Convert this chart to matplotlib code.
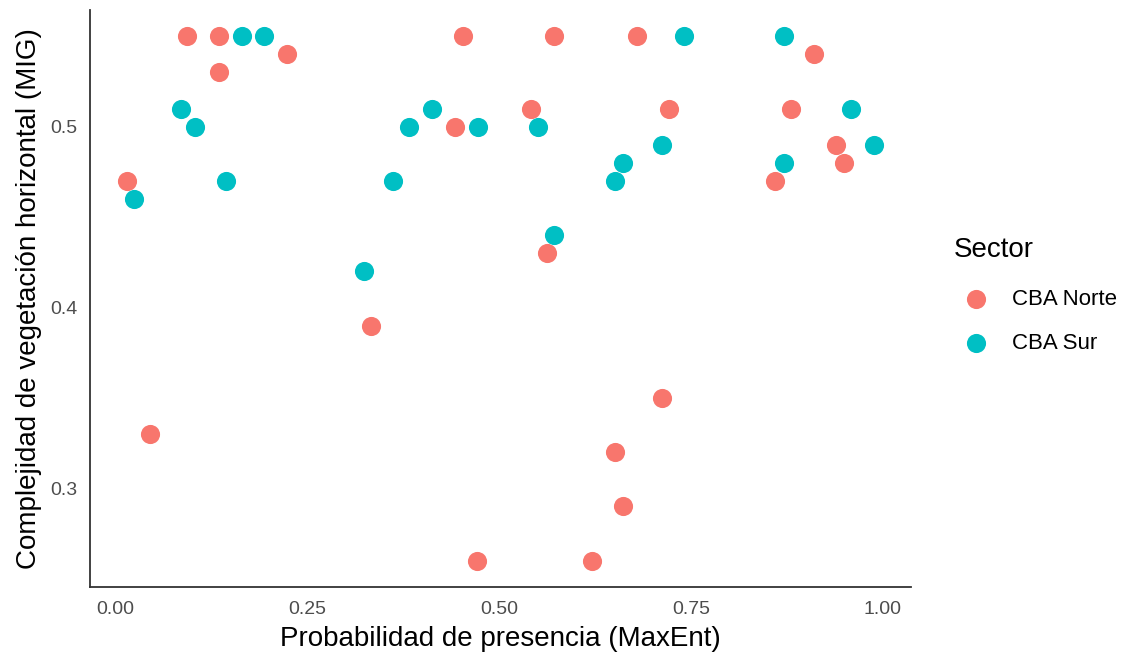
import matplotlib
matplotlib.use("Agg")
from matplotlib import pyplot as plt

# probabilidad MaxEnt vs complejidad horizontal (MIG), por sector
norte_x = [0.015, 0.045, 0.094, 0.135, 0.135, 0.224, 0.333, 0.442, 0.453, 0.471, 0.542, 0.562,
           0.571, 0.621, 0.651, 0.662, 0.680, 0.712, 0.721, 0.860, 0.880, 0.910, 0.939, 0.950]
norte_y = [0.47, 0.33, 0.55, 0.55, 0.53, 0.54, 0.39, 0.50, 0.55, 0.26, 0.51, 0.43,
           0.55, 0.26, 0.32, 0.29, 0.55, 0.35, 0.51, 0.47, 0.51, 0.54, 0.49, 0.48]

sur_x = [0.0245, 0.085, 0.104, 0.1445, 0.165, 0.194, 0.324, 0.362, 0.382, 0.412, 0.472,
         0.551, 0.571, 0.651, 0.662, 0.712, 0.741, 0.871, 0.871, 0.959, 0.989]
sur_y = [0.46, 0.51, 0.50, 0.47, 0.55, 0.55, 0.42, 0.47, 0.50, 0.51, 0.50,
         0.50, 0.44, 0.47, 0.48, 0.49, 0.55, 0.55, 0.48, 0.51, 0.49]

sectores = ["CBA Norte", "CBA Sur"]
colores = ["#F8766D", "#00BFC4"]

x_ticks = [0.0, 0.25, 0.5, 0.75, 1.0]
x_labels = ["0.00", "0.25", "0.50", "0.75", "1.00"]
y_ticks = [0.3, 0.4, 0.5]
y_labels = ["0.3", "0.4", "0.5"]

plt.rcParams['font.family'] = ['Liberation Sans', 'DejaVu Sans']

fig = plt.figure(figsize=(11.28, 6.61), dpi=100)
ax = fig.add_axes([0.0798, 0.112, 0.728, 0.873])

for xs, ys, nombre, col in zip([norte_x, sur_x], [norte_y, sur_y], sectores, colores):
    ax.scatter(xs, ys, s=190, color=col, linewidths=0, label=nombre, zorder=3)

ax.set_xlim(-0.033, 1.037)
ax.set_ylim(0.2455, 0.5645)
ax.set_xticks(x_ticks)
ax.set_xticklabels(x_labels)
ax.set_yticks(y_ticks)
ax.set_yticklabels(y_labels)
ax.tick_params(length=0, labelsize=14, labelcolor='#4D4D4D')
ax.tick_params(axis='x', pad=10)
ax.tick_params(axis='y', pad=9)

for lado in ['top', 'right']:
    ax.spines[lado].set_visible(False)
for lado in ['left', 'bottom']:
    ax.spines[lado].set_color('#333333')
    ax.spines[lado].set_linewidth(1.3)

ax.set_xlabel("Probabilidad de presencia (MaxEnt)", fontsize=20, color='black', labelpad=6)
ax.set_ylabel("Complejidad de vegetación horizontal (MIG)", fontsize=20, color='black', labelpad=6)

leg = fig.legend(loc='upper left', bbox_to_anchor=(0.838, 0.655), title="Sector",
                 frameon=False, fontsize=16, title_fontsize=20, markerscale=1.0,
                 handletextpad=0.6, labelspacing=1.0, borderaxespad=0)
leg._legend_box.align = "left"
leg._legend_box.sep = 19

fig.savefig("out.png", dpi=100)
